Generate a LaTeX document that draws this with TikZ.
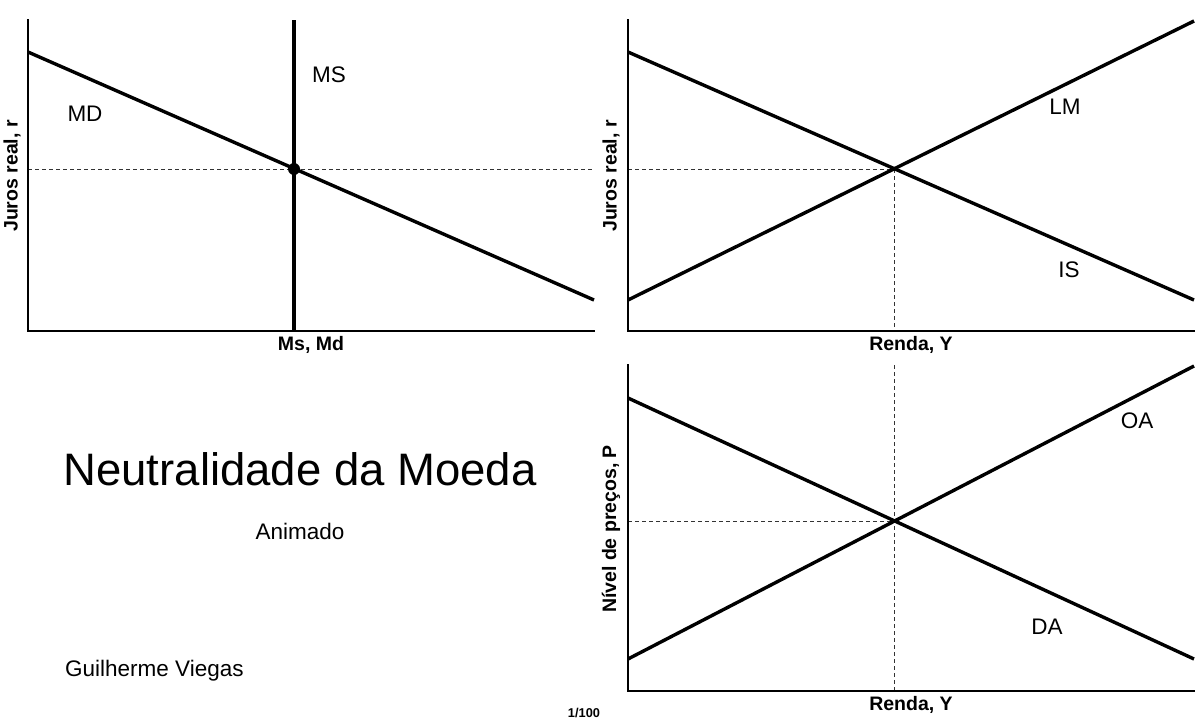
\documentclass[tikz,border=0pt]{standalone}
\usepackage{fontspec}
\setmainfont{Liberation Sans}
\begin{document}
\begin{tikzpicture}[x=1pt,y=-1pt,
  axis/.style={line width=2.3pt,line cap=rect},
  curve/.style={line width=3.4pt},
  guide/.style={line width=1pt,dash pattern=on 4pt off 3pt,black!80},
  lbl/.style={font=\fontsize{22.5}{26}\selectfont,inner sep=0pt},
  axlbl/.style={font=\fontsize{19.5}{22}\selectfont\bfseries,inner sep=0pt}]
\useasboundingbox (0,0) rectangle (1200,720);
% ---------- panel 1: money market ----------
\coordinate (a1t) at (28,20); \coordinate (a1o) at (28,331); \coordinate (a1r) at (594,331);
\coordinate (md1) at (28,52); \coordinate (md2) at (594,300);
\coordinate (ms1) at (294,20); \coordinate (ms2) at (294,331);
\coordinate (e1) at (294,169); \coordinate (g1) at (28,169); \coordinate (g1r) at (594,169);
\draw[guide] (g1) -- (g1r);
\draw[axis] (a1t) -- (a1o) -- (a1r);
\draw[curve] (md1) -- (md2);
\draw[curve] (ms1) -- (ms2);
\fill (e1) circle (6);
\node[lbl] (msl) at (329,75) {MS};
\node[lbl] (mdl) at (85,114) {MD};
\node[axlbl,rotate=90] (y1) at (12,176) {Juros real, r};
\node[axlbl] (x1) at (311,345) {Ms, Md};
% ---------- panel 2: IS-LM ----------
\coordinate (a2t) at (628,20); \coordinate (a2o) at (628,331); \coordinate (a2r) at (1194,331);
\coordinate (is1) at (628,52); \coordinate (is2) at (1194,300);
\coordinate (lm1) at (628,300); \coordinate (lm2) at (1194,21);
\coordinate (e2) at (894,169); \coordinate (g2) at (628,169); \coordinate (g2b) at (894,331);
\draw[guide] (g2) -- (e2) -- (g2b);
\draw[axis] (a2t) -- (a2o) -- (a2r);
\draw[curve] (is1) -- (is2);
\draw[curve] (lm1) -- (lm2);
\node[lbl] (lml) at (1065,107) {LM};
\node[lbl] (isl) at (1069,270) {IS};
\node[axlbl,rotate=90] (y2) at (611,176) {Juros real, r};
\node[axlbl] (x2) at (911,345) {Renda, Y};
% ---------- panel 3: AD-AS ----------
\coordinate (a3t) at (628,365); \coordinate (a3o) at (628,691); \coordinate (a3r) at (1194,691);
\coordinate (da1) at (628,398); \coordinate (da2) at (1194,659);
\coordinate (oa1) at (628,659); \coordinate (oa2) at (1194,366);
\coordinate (e3) at (894,521); \coordinate (g3) at (628,521);
\coordinate (g3t) at (894,365); \coordinate (g3b) at (894,691);
\draw[guide] (g3) -- (e3);
\draw[guide] (g3t) -- (g3b);
\draw[axis] (a3t) -- (a3o) -- (a3r);
\draw[curve] (da1) -- (da2);
\draw[curve] (oa1) -- (oa2);
\node[lbl] (oal) at (1137,421) {OA};
\node[lbl] (dal) at (1047,627) {DA};
\node[axlbl,rotate=90] (y3) at (611,529) {Nível de preços, P};
\node[axlbl] (x3) at (911,705) {Renda, Y};
% ---------- text ----------
\node[inner sep=0pt,font=\fontsize{45.5}{50}\selectfont] (title) at (300,469) {Neutralidade da Moeda};
\node[lbl] (sub) at (300,531) {Animado};
\node[lbl,anchor=west] (auth) at (65,671) {Guilherme Viegas};
\node[inner sep=0pt,font=\fontsize{12.8}{15}\selectfont\bfseries] (pg) at (584,713) {1/100};
\end{tikzpicture}
\end{document}
